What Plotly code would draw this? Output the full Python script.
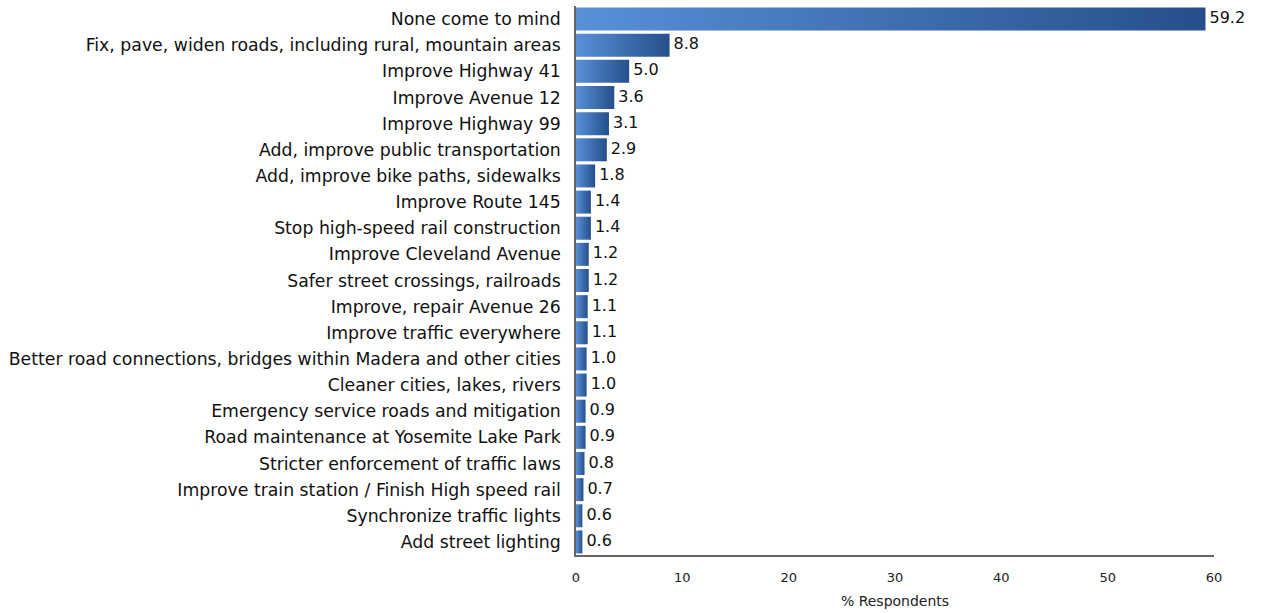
import plotly.graph_objects as go

categories = [
    "None come to mind",
    "Fix, pave, widen roads, including rural, mountain areas",
    "Improve Highway 41",
    "Improve Avenue 12",
    "Improve Highway 99",
    "Add, improve public transportation",
    "Add, improve bike paths, sidewalks",
    "Improve Route 145",
    "Stop high-speed rail construction",
    "Improve Cleveland Avenue",
    "Safer street crossings, railroads",
    "Improve, repair Avenue 26",
    "Improve traffic everywhere",
    "Better road connections, bridges within Madera and other cities",
    "Cleaner cities, lakes, rivers",
    "Emergency service roads and mitigation",
    "Road maintenance at Yosemite Lake Park",
    "Stricter enforcement of traffic laws",
    "Improve train station / Finish High speed rail",
    "Synchronize traffic lights",
    "Add street lighting",
]
values = [59.2, 8.8, 5.0, 3.6, 3.1, 2.9, 1.8, 1.4, 1.4, 1.2, 1.2, 1.1, 1.1, 1.0, 1.0, 0.9, 0.9, 0.8, 0.7, 0.6, 0.6]
x_ticks = [0, 10, 20, 30, 40, 50, 60]

FONT = "DejaVu Sans"
half = 0.44
fig = go.Figure()
for i, (c, v) in enumerate(zip(categories, values)):
    fig.add_trace(go.Scatter(
        x=[0, v, v, 0, 0],
        y=[i - half, i - half, i + half, i + half, i - half],
        mode="lines", line=dict(width=0),
        fill="toself",
        fillgradient=dict(type="horizontal",
                          colorscale=[[0, "#5990d8"], [1, "#254f8b"]]),
        hoverinfo="skip", showlegend=False,
    ))

fig.add_trace(go.Scatter(
    x=values, y=list(range(len(values))),
    mode="text", text=[f"\u2005{v:.1f}" for v in values],
    textposition="middle right",
    textfont=dict(family=FONT, size=16, color="#111"),
    showlegend=False, hoverinfo="skip", cliponaxis=False,
))

fig.update_layout(
    width=1261, height=613,
    margin=dict(l=576, r=47, t=6, b=56),
    plot_bgcolor="white", paper_bgcolor="white",
    font=dict(family=FONT, color="#222"),
    xaxis=dict(range=[0, 60], tickvals=x_ticks, showgrid=False, zeroline=False,
               showline=True, linecolor="#666", linewidth=1.5,
               ticks="", tickfont=dict(size=13, color="#222"), ticklabelstandoff=10,
               title=dict(text="% Respondents", font=dict(size=14, color="#222"), standoff=12)),
    yaxis=dict(range=[len(values) - 0.5, -0.5], tickvals=list(range(len(values))),
               ticktext=categories, showgrid=False, zeroline=False,
               showline=True, linecolor="#666", linewidth=1.5,
               ticks="", tickfont=dict(size=17.3, color="#111"), ticklabelstandoff=10),
)

fig.write_html("out.html")
